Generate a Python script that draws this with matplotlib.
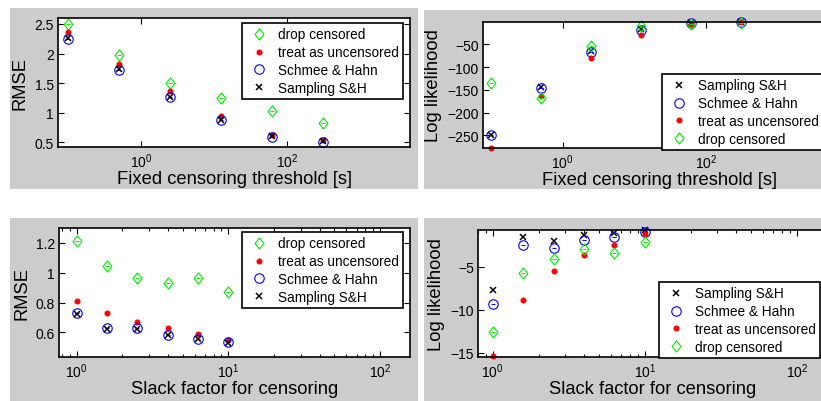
import matplotlib
matplotlib.use("Agg")
import matplotlib.pyplot as plt
from matplotlib.patches import Rectangle
from matplotlib.path import Path
from matplotlib.ticker import LogLocator, NullFormatter, FixedLocator
import numpy as np

plt.rcParams['font.family'] = ['Liberation Sans', 'DejaVu Sans']
plt.rcParams['mathtext.default'] = 'regular'

# ---- data -------------------------------------------------------------
threshold = [0.1, 0.5, 2.5, 12.5, 62.5, 312.5]
slack = [1.0, 1.585, 2.512, 3.981, 6.31, 10.0]

rmse_thr_drop = [2.50, 1.97, 1.51, 1.25, 1.02, 0.83]
rmse_thr_treat = [2.36, 1.82, 1.36, 0.95, 0.63, 0.53]
rmse_thr_sh = [2.24, 1.72, 1.26, 0.87, 0.59, 0.51]
rmse_thr_samp = [2.26, 1.73, 1.27, 0.87, 0.60, 0.52]

ll_thr_samp = [-250, -144, -64, -16, -3, -1]
ll_thr_sh = [-250, -145, -66, -19, -3, -2]
ll_thr_treat = [-277, -163, -80, -29, -5, -2]
ll_thr_drop = [-136, -167, -54, -10, -5, -3]

rmse_slk_drop = [1.21, 1.045, 0.967, 0.933, 0.965, 0.87]
rmse_slk_treat = [0.81, 0.73, 0.672, 0.627, 0.59, 0.55]
rmse_slk_sh = [0.73, 0.627, 0.627, 0.585, 0.556, 0.533]
rmse_slk_samp = [0.725, 0.625, 0.625, 0.58, 0.555, 0.53]

ll_slk_samp = [-7.7, -1.55, -1.97, -1.31, -1.08, -0.75]
ll_slk_sh = [-9.3, -2.43, -2.78, -1.90, -1.50, -0.92]
ll_slk_treat = [-15.4, -8.9, -5.5, -3.6, -2.43, -1.22]
ll_slk_drop = [-12.6, -5.67, -4.1, -2.95, -3.33, -2.07]

lab_drop = 'drop censored'
lab_treat = 'treat as uncensored'
lab_sh = 'Schmee & Hahn'
lab_samp = 'Sampling S&H'

# ---- figure -----------------------------------------------------------
W, H = 821, 402
fig = plt.figure(figsize=(W / 100, H / 100), dpi=100, facecolor='white')


def frac(l, t, r, b):
    return [l / W, 1 - b / H, (r - l) / W, (b - t) / H]


GRAY = '#cccccc'
for l, t, r, b in [(10, 9, 418, 190), (424, 11, 830, 190),
                   (10, 219, 418, 410), (424, 219, 830, 410)]:
    fig.patches.append(Rectangle((l / W, 1 - b / H), (r - l) / W, (b - t) / H,
                                 transform=fig.transFigure, facecolor=GRAY,
                                 edgecolor='none', zorder=-10))

# slightly narrow diamond, as drawn by MATLAB's 'd' marker
DIAMOND = Path([(0, 1), (0.8, 0), (0, -1), (-0.8, 0), (0, 1)],
               [Path.MOVETO, Path.LINETO, Path.LINETO, Path.LINETO,
                Path.CLOSEPOLY])

style = {
    'drop': dict(marker=DIAMOND, ms=8, mfc='none', mec='#00ee00', mew=0.8, ls='none'),
    'treat': dict(marker='o', ms=3.8, mfc='red', mec='red', mew=0.5, ls='none'),
    'sh': dict(marker='o', ms=6.8, mfc='none', mec='blue', mew=0.8, ls='none'),
    'samp': dict(marker='x', ms=4.2, mfc='none', mec='black', mew=1.1, ls='none'),
}


def series(ax, x, y, key, label):
    st = style[key]
    h, = ax.plot(x, y, label=label, **st)
    if key in ('drop', 'sh'):
        ax.plot(x, y, ls='none', marker='_', ms=2.5, mew=0.7, color=st['mec'])
    return h


def setup(ax, xlim, ylim, yticks, xticks, xlabel, ylabel, minor):
    ax.set_xscale('log')
    ax.set_xlim(*xlim)
    ax.set_ylim(*ylim)
    ax.set_yticks(yticks)
    ax.set_yticklabels([('%g' % v).replace('-', '\u2212') for v in yticks])
    ax.xaxis.set_major_locator(FixedLocator(xticks))
    if minor:
        ax.xaxis.set_minor_locator(LogLocator(base=10, subs=np.arange(2, 10)))
    else:
        ax.xaxis.set_minor_locator(FixedLocator([]))
    ax.xaxis.set_minor_formatter(NullFormatter())
    ax.tick_params(which='both', direction='in', top=True, right=True,
                   labelsize=10, pad=3, width=0.8)
    ax.tick_params(which='major', length=4)
    ax.tick_params(which='minor', length=2.5)
    for s in ax.spines.values():
        s.set_linewidth(1.2)
    ax.set_xlabel(xlabel, fontsize=13.2, labelpad=0.5)
    ax.set_ylabel(ylabel, fontsize=13.2, labelpad=4)


def legend(ax, handles, l, t):
    leg = ax.legend(handles=handles, loc='upper left',
                    bbox_to_anchor=(l / W, 1 - t / H),
                    bbox_transform=fig.transFigure, borderaxespad=0,
                    fontsize=9.8, frameon=True, fancybox=False,
                    framealpha=1, edgecolor='black', labelspacing=0.28,
                    handlelength=1.8, handletextpad=0.5, borderpad=0.33,
                    numpoints=1)
    leg.get_frame().set_linewidth(1.2)
    return leg


# top-left: RMSE vs fixed threshold
ax1 = fig.add_axes(frac(58, 19, 410, 148))
h_d = series(ax1, threshold, rmse_thr_drop, 'drop', lab_drop)
h_t = series(ax1, threshold, rmse_thr_treat, 'treat', lab_treat)
h_s = series(ax1, threshold, rmse_thr_sh, 'sh', lab_sh)
h_x = series(ax1, threshold, rmse_thr_samp, 'samp', lab_samp)
setup(ax1, (10 ** -1.137, 10 ** 3.685), (0.42, 2.6), [0.5, 1, 1.5, 2, 2.5],
      [1, 100], 'Fixed censoring threshold [s]', 'RMSE', False)
legend(ax1, [h_d, h_t, h_s, h_x], 242, 24)

# top-right: log likelihood vs fixed threshold
ax2 = fig.add_axes(frac(483, 23, 835, 149))
g_x = series(ax2, threshold, ll_thr_samp, 'samp', lab_samp)
g_s = series(ax2, threshold, ll_thr_sh, 'sh', lab_sh)
g_t = series(ax2, threshold, ll_thr_treat, 'treat', lab_treat)
g_d = series(ax2, threshold, ll_thr_drop, 'drop', lab_drop)
setup(ax2, (10 ** -1.11, 10 ** 3.80), (-278, -1), [-250, -200, -150, -100, -50],
      [1, 100], 'Fixed censoring threshold [s]', 'Log likelihood', False)
legend(ax2, [g_x, g_s, g_t, g_d], 662, 75)

# bottom-left: RMSE vs slack factor
ax3 = fig.add_axes(frac(59, 229, 410, 358))
k_d = series(ax3, slack, rmse_slk_drop, 'drop', lab_drop)
k_t = series(ax3, slack, rmse_slk_treat, 'treat', lab_treat)
k_s = series(ax3, slack, rmse_slk_sh, 'sh', lab_sh)
k_x = series(ax3, slack, rmse_slk_samp, 'samp', lab_samp)
setup(ax3, (10 ** -0.117, 10 ** 2.197), (0.435, 1.30), [0.6, 0.8, 1, 1.2],
      [1, 10, 100], 'Slack factor for censoring', 'RMSE', True)
legend(ax3, [k_d, k_t, k_s, k_x], 242, 233)

# bottom-right: log likelihood vs slack factor
ax4 = fig.add_axes(frac(478, 231, 827, 358))
m_x = series(ax4, slack, ll_slk_samp, 'samp', lab_samp)
m_s = series(ax4, slack, ll_slk_sh, 'sh', lab_sh)
m_t = series(ax4, slack, ll_slk_treat, 'treat', lab_treat)
m_d = series(ax4, slack, ll_slk_drop, 'drop', lab_drop)
setup(ax4, (10 ** -0.097, 10 ** 2.197), (-15.5, -0.7), [-15, -10, -5],
      [1, 10, 100], 'Slack factor for censoring', 'Log likelihood', True)
legend(ax4, [m_x, m_s, m_t, m_d], 659, 283)

for ax in (ax1, ax2, ax3, ax4):
    for ln in ax.lines:
        ln.set_clip_on(False)

fig.savefig('out.png', dpi=100, facecolor='white')
